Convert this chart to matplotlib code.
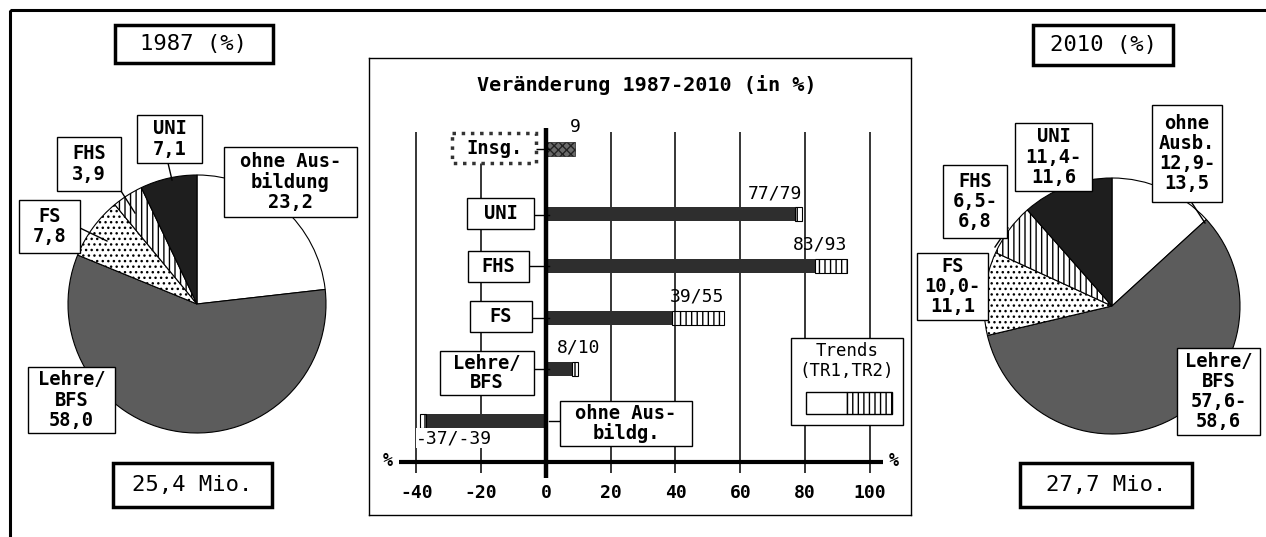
import numpy as np
import matplotlib
matplotlib.use("Agg")
import matplotlib.pyplot as plt
from matplotlib.patches import Rectangle

plt.rcParams['font.family'] = ['DejaVu Sans Mono']
plt.rcParams['hatch.color'] = 'black'
plt.rcParams['hatch.linewidth'] = 1.0

# ---- data ----
pie_names_1987 = ["ohne Aus-\nbildung", "Lehre/\nBFS", "FS", "FHS", "UNI"]
share_1987 = [23.2, 58.0, 7.8, 3.9, 7.1]
total_1987 = "25,4 Mio."

pie_names_2010 = ["ohne\nAusb.", "Lehre/\nBFS", "FS", "FHS", "UNI"]
share_2010_low = [12.9, 57.6, 10.0, 6.5, 11.4]
share_2010_high = [13.5, 58.6, 11.1, 6.8, 11.6]
total_2010 = "27,7 Mio."

change_cats = ["Insg.", "UNI", "FHS", "FS", "Lehre/\nBFS", "ohne Aus-\nbildg."]
trend1 = [9, 77, 83, 39, 8, -37]
trend2 = [9, 79, 93, 55, 10, -39]
x_ticks = [-40, -20, 0, 20, 40, 60, 80, 100]

W, H = 1266, 537
fig = plt.figure(figsize=(W / 100, H / 100), dpi=100)


def fpos(x0, y0, x1, y1):
    # pixel box (origin top left) -> figure fraction rect
    return [x0 / W, 1 - y1 / H, (x1 - x0) / W, (y1 - y0) / H]


def fmt(v):
    return f"{v:.1f}".replace(".", ",")


# ---- pies ----
pie_fill = ['white', '#5c5c5c', 'white', 'white', '#1e1e1e']
pie_hatch = [None, None, '...', '|||', None]


def draw_pie(cx, cy, r, values):
    ax = fig.add_axes(fpos(cx - r, cy - r, cx + r, cy + r))
    wedges, _ = ax.pie(values, startangle=90, counterclock=False, radius=1,
                       wedgeprops=dict(edgecolor='black', linewidth=0.8))
    for w, fc, h in zip(wedges, pie_fill, pie_hatch):
        w.set_facecolor(fc)
        if h:
            w.set_hatch(h)
    ax.set_xlim(-1, 1)
    ax.set_ylim(-1, 1)
    ax.axis('off')
    return ax


draw_pie(197, 304, 129, share_1987)
share_2010_mid = (np.array(share_2010_low) + np.array(share_2010_high)) / 2
draw_pie(1112, 306, 128, share_2010_mid)

# ---- center bar chart ----
bx = fig.add_axes(fpos(369, 58, 911, 515))
bx.set_xlim(-54.6, 112.7)
bx.set_ylim(5.82, -3.03)
bx.set_xticks([])
bx.set_yticks([])
for s in bx.spines.values():
    s.set_linewidth(1.0)

ypos = np.r_[-1.26, np.arange(len(change_cats) - 1)]
t1 = np.array(trend1)
t2 = np.array(trend2)

grid = [t for t in x_ticks if t != 0]
bx.vlines(grid, -1.60, 5.01, color='black', lw=1.1, zorder=1)
bx.vlines(0, -1.68, 5.11, color='black', lw=3.2, zorder=4)
bx.hlines(4.80, -45.4, 104.0, color='black', lw=3, zorder=4)
for t in x_ticks:
    bx.text(t, 5.40, str(t), ha='center', va='center', fontsize=13, fontweight='bold')
bx.text(-48.8, 4.78, '%', ha='center', va='center', fontsize=12, fontweight='bold')
bx.text(107.4, 4.78, '%', ha='center', va='center', fontsize=12, fontweight='bold')

bx.text(31, -2.51, "Veränderung 1987-2010 (in %)", ha='center', va='center',
        fontsize=14.5, fontweight='bold')

bar_h = 0.27
# total bar
bx.barh(ypos[0], t1[0], height=bar_h, color='#6a6a6a', edgecolor='#222222',
        hatch='xxxx', lw=0.5, zorder=3)
# group bars: trend 1 solid, trend 2 extension hatched
bx.barh(ypos[1:], t1[1:], height=bar_h, color='#2e2e2e', edgecolor='none', zorder=3)
bx.barh(ypos[1:], t2[1:] - t1[1:], left=t1[1:], height=bar_h, color='white',
        edgecolor='black', hatch='|||', lw=0.8, zorder=3)

for y, a, b in zip(ypos, t1, t2):
    s = str(a) if a == b else f"{a}/{b}"
    if a < 0:
        bx.text(b - 1, y + 0.33, s, ha='left', va='center', fontsize=13, zorder=5,
                bbox=dict(facecolor='white', edgecolor='none', pad=0.5))
    elif b < 20:
        bx.text(b, y - 0.43, s, ha='center', va='center', fontsize=13, zorder=5)
    else:
        bx.text(b, y - 0.41, s, ha='right', va='center', fontsize=13, zorder=5)

# ---- overlay for frames, boxes and labels ----
ov = fig.add_axes([0, 0, 1, 1], zorder=10)
ov.set_xlim(0, W)
ov.set_ylim(H, 0)
ov.axis('off')


def box(x0, y0, x1, y1, lw=1.0, ls='-', ec='black'):
    ov.add_patch(Rectangle((x0, y0), x1 - x0, y1 - y0, facecolor='white',
                           edgecolor=ec, lw=lw, ls=ls, zorder=3))


def label(x, y, s, size=13.5, weight='bold', ls=1.08):
    ov.text(x, y, s, ha='center', va='center', fontsize=size, fontweight=weight,
            linespacing=ls, multialignment='center', zorder=4)


def line(x0, y0, x1, y1, lw=1.0):
    ov.plot([x0, x1], [y0, y1], color='black', lw=lw, zorder=2)


# outer frame
ov.add_patch(Rectangle((10, 10), 1400, 700, fill=False, lw=2.2, zorder=1))

# headline and total boxes
box(115, 25, 273, 63, lw=2.5)
label(194, 44, "1987 (%)", size=16, weight='normal')
box(1033, 25, 1173, 65, lw=2.5)
label(1103, 45, "2010 (%)", size=16, weight='normal')
box(113, 463, 272, 507, lw=2.5)
label(192.5, 485, total_1987, size=16, weight='normal')
box(1020, 463, 1192, 507, lw=2.5)
label(1106, 485, total_2010, size=16, weight='normal')

# left pie labels: ohne, Lehre, FS, FHS, UNI
boxes_1987 = [(224, 147, 357, 217), (28, 367, 115, 433), (19, 200, 80, 253),
              (57, 137, 121, 191), (137, 115, 202, 163)]
line(168, 163, 172, 180)
line(121, 191, 135, 213)
line(80, 228, 107, 241)
for name, v, (x0, y0, x1, y1) in zip(pie_names_1987, share_1987, boxes_1987):
    box(x0, y0, x1, y1)
    label((x0 + x1) / 2, (y0 + y1) / 2, f"{name}\n{fmt(v)}")

# right pie labels
boxes_2010 = [(1152, 105, 1222, 202), (1177, 348, 1260, 435), (917, 253, 988, 320),
              (943, 165, 1007, 238), (1015, 123, 1092, 191)]
line(1008, 228, 995, 247)
line(1190, 200, 1205, 223)
for name, lo, hi, (x0, y0, x1, y1) in zip(pie_names_2010, share_2010_low,
                                          share_2010_high, boxes_2010):
    box(x0, y0, x1, y1)
    label((x0 + x1) / 2, (y0 + y1) / 2, f"{name}\n{fmt(lo)}-\n{fmt(hi)}")

# category boxes of the center chart
cat_boxes = [(452, 133, 536, 163), (467, 198, 534, 229), (468, 251, 529, 282),
             (470, 301, 532, 332), (440, 351, 534, 395), (560, 401, 692, 446)]
row_px = 214.5 + 51.6 * ypos
for i, (cat, (x0, y0, x1, y1)) in enumerate(zip(change_cats, cat_boxes)):
    if i == 0:
        box(x0, y0, x1, y1, lw=2.5, ls=':', ec='#333333')
    else:
        box(x0, y0, x1, y1)
    if x0 > 549:
        line(549, row_px[i], x0, row_px[i])
    else:
        line(x1, row_px[i], 549, row_px[i])
    label((x0 + x1) / 2, (y0 + y1) / 2, cat, ls=0.98)

# trend legend
box(791, 338, 903, 425)
label(847, 361, "Trends\n(TR1,TR2)", size=12.5, weight='normal', ls=1.2)
ov.add_patch(Rectangle((806, 392), 41, 22, facecolor='white', edgecolor='black',
                       lw=1, zorder=4))
ov.add_patch(Rectangle((847, 392), 45, 22, facecolor='white', edgecolor='black',
                       hatch='|||', lw=1, zorder=4))

fig.savefig("out.png", dpi=100, facecolor='white')
